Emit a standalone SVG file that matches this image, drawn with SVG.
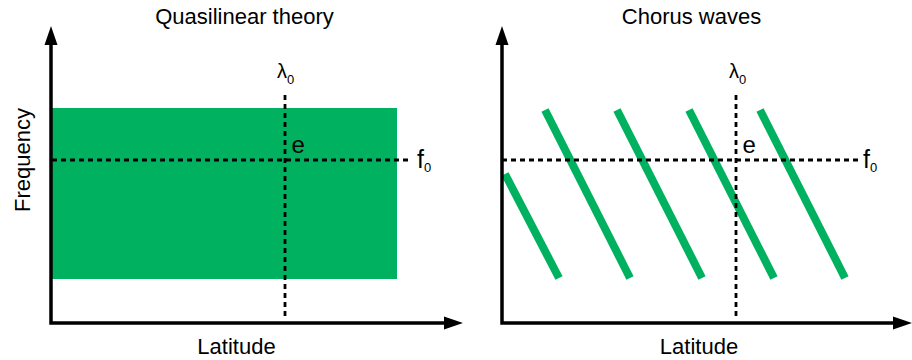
<svg xmlns="http://www.w3.org/2000/svg" width="912" height="360" viewBox="0 0 912 360">
<style>
text{font-family:"Liberation Sans",Arial,sans-serif;fill:#000}
.lbl{font-size:22px}
.lam{font-size:20px}
.sub{font-size:13px}
.e{font-size:24px}
.f{font-size:25px}
.axis{fill:none;stroke:#000;stroke-width:3.5;stroke-linejoin:miter}
.dash{fill:none;stroke:#000;stroke-width:2.8;stroke-dasharray:5 4}
.wave{stroke:#00B25F;stroke-width:8;stroke-linecap:butt}
</style>
<defs>
<marker id="ah" markerUnits="userSpaceOnUse" markerWidth="20" markerHeight="14" viewBox="0 0 20 14" refX="0" refY="7" orient="auto-start-reverse">
<path d="M0,0.5 L19,7 L0,13.5 z" fill="#000"/>
</marker>
</defs>
<rect width="912" height="360" fill="#fff"/>

<g id="panel-left">
<text class="lbl" x="244.5" y="24" text-anchor="middle">Quasilinear theory</text>
<rect id="band" x="52" y="108" width="345" height="171" fill="#00B25F"/>
<g id="connectors-left">
<path class="axis" d="M51,45 L51,323 L444,323" marker-start="url(#ah)" marker-end="url(#ah)"/>
<line class="dash" x1="285" y1="95" x2="285" y2="318"/>
<line class="dash" x1="52" y1="160" x2="409" y2="160"/>
</g>
<text class="lbl" transform="translate(30,160) rotate(-90)" text-anchor="middle">Frequency</text>
<text class="lbl" x="236.5" y="354" text-anchor="middle">Latitude</text>
<text class="lam" x="277" y="78">λ<tspan class="sub" dy="6">0</tspan></text>
<text class="e" x="291.5" y="153">e</text>
<text class="f" x="417" y="168">f<tspan class="sub" dy="4">0</tspan></text>
</g>

<g id="panel-right">
<text class="lbl" x="691.5" y="24" text-anchor="middle">Chorus waves</text>
<g id="waves">
<line class="wave" x1="505" y1="174" x2="559" y2="278"/>
<line class="wave" x1="545" y1="110" x2="630" y2="278"/>
<line class="wave" x1="617" y1="110" x2="702" y2="278"/>
<line class="wave" x1="689" y1="110" x2="774" y2="278"/>
<line class="wave" x1="760" y1="110" x2="845" y2="278"/>
</g>
<g id="connectors-right">
<path class="axis" d="M502,45 L502,323 L893,323" marker-start="url(#ah)" marker-end="url(#ah)"/>
<line class="dash" x1="736" y1="95" x2="736" y2="318"/>
<line class="dash" x1="502" y1="160" x2="861" y2="160"/>
</g>
<text class="lbl" x="699" y="354" text-anchor="middle">Latitude</text>
<text class="lam" x="729" y="78">λ<tspan class="sub" dy="6">0</tspan></text>
<text class="e" x="742.5" y="153">e</text>
<text class="f" x="863" y="168">f<tspan class="sub" dy="4">0</tspan></text>
</g>
</svg>
